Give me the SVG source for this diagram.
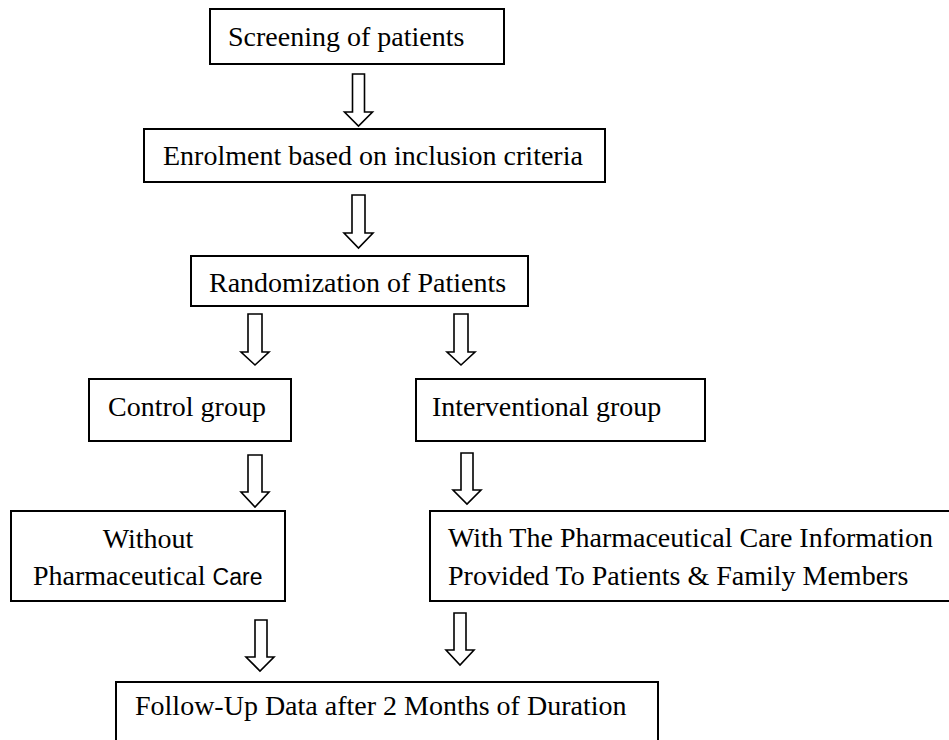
<svg xmlns="http://www.w3.org/2000/svg" width="949" height="740" viewBox="0 0 949 740">
<style>
.box{fill:#fff;stroke:#000;stroke-width:2}
.t{font-family:"Liberation Serif","Times New Roman",serif;font-size:28px;fill:#000}
.s{font-family:"Liberation Sans",Arial,sans-serif;font-size:23px}
.arr{fill:#fff;stroke:#000;stroke-width:1.6;stroke-linejoin:miter}
</style>
<rect width="949" height="740" fill="#fff"/>
<g id="connectors">
<path class="arr" d="M352.5,74 H364.5 V112 H372.5 L358.5,126 L344.5,112 H352.5 Z"/>
<path class="arr" d="M352,195 H365 V233 H373 L358.5,248 L344,233 H352 Z"/>
<path class="arr" d="M248,314 H262 V352 H269 L255,365 L241,352 H248 Z"/>
<path class="arr" d="M454,314 H468 V352 H475 L461,365 L447,352 H454 Z"/>
<path class="arr" d="M248,455 H262 V492 H269 L255,507 L241,492 H248 Z"/>
<path class="arr" d="M461,453 H473 V490 H481 L467,504 L453,490 H461 Z"/>
<path class="arr" d="M255,620 H267 V657 H274 L260,671 L246,657 H255 Z"/>
<path class="arr" d="M454,613 H466 V650 H474 L460,665 L446,650 H454 Z"/>
</g>
<g id="screening">
<rect class="box" x="210" y="9" width="294" height="55"/>
<text class="t" x="228" y="46">Screening of patients</text>
</g>
<g id="enrolment">
<rect class="box" x="144" y="129" width="461" height="53"/>
<text class="t" x="163" y="165">Enrolment based on inclusion criteria</text>
</g>
<g id="randomization">
<rect class="box" x="191" y="256" width="337" height="50"/>
<text class="t" x="209" y="292">Randomization of Patients</text>
</g>
<g id="control">
<rect class="box" x="89" y="379" width="202" height="62"/>
<text class="t" x="108" y="416">Control group</text>
</g>
<g id="interventional">
<rect class="box" x="416" y="379" width="289" height="62"/>
<text class="t" x="432" y="416">Interventional group</text>
</g>
<g id="without">
<rect class="box" x="11" y="511" width="274" height="90"/>
<text class="t" x="148" y="548" text-anchor="middle">Without</text>
<text class="t" x="33" y="585">Pharmaceutical <tspan class="s">Care</tspan></text>
</g>
<g id="with">
<rect class="box" x="430" y="511" width="540" height="90"/>
<text class="t" x="448" y="547">With The Pharmaceutical Care Information</text>
<text class="t" x="448" y="585">Provided To Patients &amp; Family Members</text>
</g>
<g id="followup">
<rect class="box" x="116" y="682" width="542" height="80"/>
<text class="t" x="135" y="715">Follow-Up Data after 2 Months of Duration</text>
</g>
</svg>
